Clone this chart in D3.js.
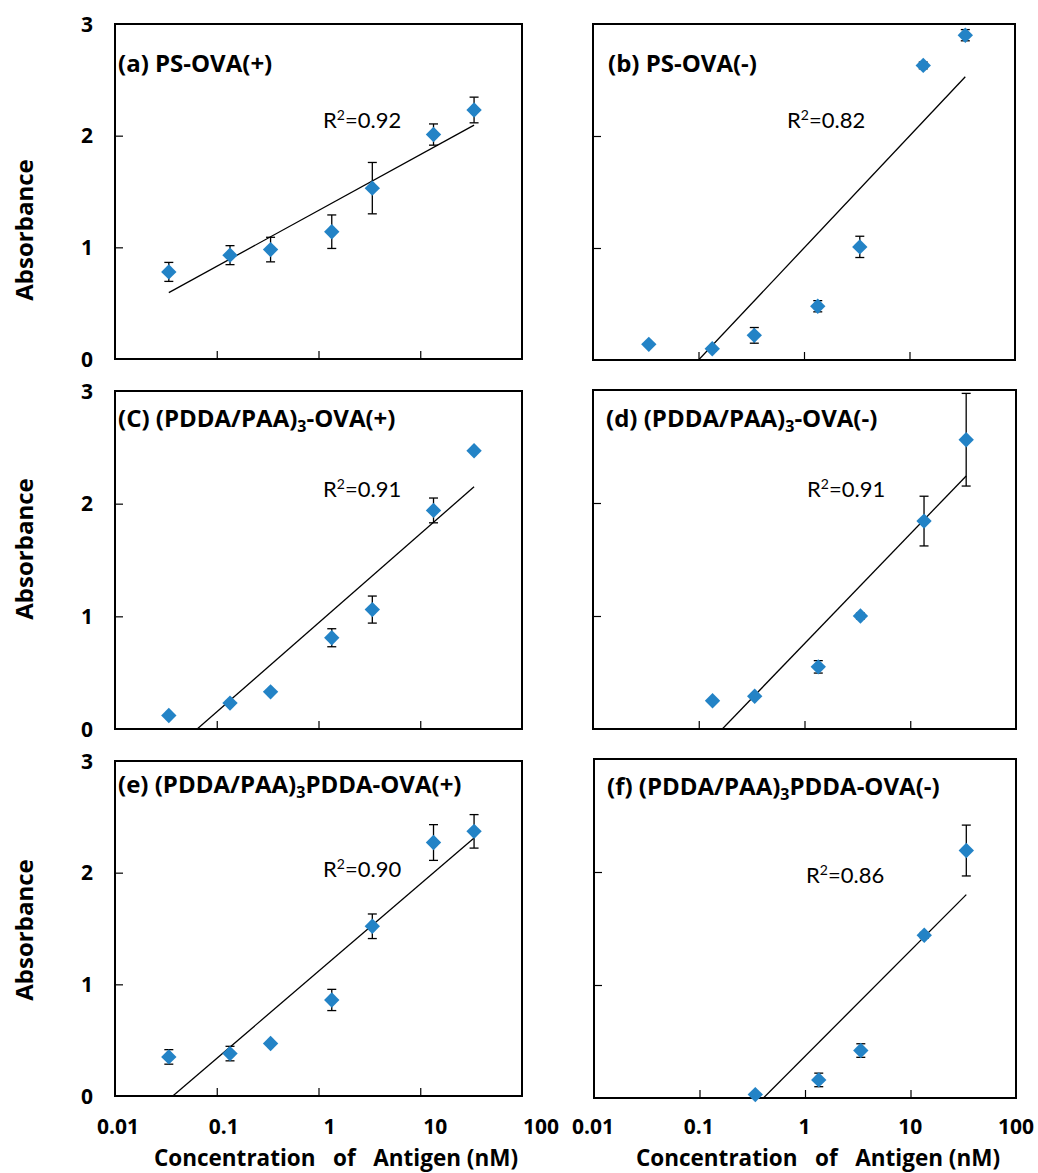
<!DOCTYPE html>
<html>
<head>
<meta charset="utf-8">
<script src="https://cdn.jsdelivr.net/npm/d3@7"></script>
<style>
  html, body { margin: 0; padding: 0; background: #fff; }
  svg { display: block; }
  text { fill: #000; }
  .bold { font-family: "Open Sans", Lato, sans-serif; font-weight: bold; }
  .reg { font-family: Lato, "Open Sans", sans-serif; }
</style>
</head>
<body>
<svg id="chart" width="1038" height="1173"></svg>
<script>
// ---------- data ----------
const conc = [0.0338, 0.135, 0.338, 1.35, 3.38, 13.5, 33.8];
const xTickValues = [0.01, 0.1, 1, 10, 100];
const xTickLabels = ["0.01", "0.1", "1", "10", "100"];
const yTickValues = [0, 1, 2, 3];
const yTickLabels = ["0", "1", "2", "3"];

const panelNames = ["(a) PS-OVA(+)", "(b) PS-OVA(-)", "(C) (PDDA/PAA)|3|-OVA(+)",
                    "(d) (PDDA/PAA)|3|-OVA(-)", "(e) (PDDA/PAA)|3|PDDA-OVA(+)", "(f) (PDDA/PAA)|3|PDDA-OVA(-)"];
const r2Values = ["0.92", "0.82", "0.91", "0.91", "0.90", "0.86"];

const aX = conc;
const aY = [0.78, 0.93, 0.98, 1.14, 1.53, 2.01, 2.23];
const aErr = [0.085, 0.085, 0.11, 0.15, 0.23, 0.095, 0.115];

const bX = conc;
const bY = [0.14, 0.10, 0.22, 0.48, 1.01, 2.63, 2.90];
const bErr = [0.0, 0.02, 0.07, 0.05, 0.095, 0.03, 0.05];

const cX = conc;
const cY = [0.12, 0.23, 0.33, 0.81, 1.06, 1.94, 2.47];
const cErr = [0.015, 0.015, 0.01, 0.08, 0.12, 0.11, 0.015];

const dX = conc.slice(1);
const dY = [0.25, 0.29, 0.55, 1.00, 1.84, 2.56];
const dErr = [0.01, 0.015, 0.055, 0.025, 0.22, 0.41];

const eX = conc;
const eY = [0.35, 0.38, 0.47, 0.86, 1.52, 2.27, 2.37];
const eErr = [0.065, 0.065, 0.015, 0.095, 0.11, 0.16, 0.15];

const fX = conc.slice(2);
const fY = [0.03, 0.16, 0.42, 1.44, 2.19];
const fErr = [0.0, 0.06, 0.06, 0.025, 0.225];

// logarithmic trend lines: y = intercept + slope * log10(x)
const trendSlope = [0.50, 1.00, 0.79, 0.971, 0.78, 0.936];
const trendIntercept = [1.33, 1.00, 0.942, 0.755, 1.117, 0.369];

const seriesX = [aX, bX, cX, dX, eX, fX];
const seriesY = [aY, bY, cY, dY, eY, fY];
const seriesErr = [aErr, bErr, cErr, dErr, eErr, fErr];

// ---------- layout ----------
const layout = [
  { x0: 115, x1: 522, y0: 24,  y1: 359, col: 0, row: 0, lx: 118, ly: 72,  rx: 323, ry: 128 },
  { x0: 593, x1: 1015, y0: 24, y1: 360, col: 1, row: 0, lx: 608, ly: 72,  rx: 787, ry: 128 },
  { x0: 115, x1: 522, y0: 391, y1: 729, col: 0, row: 1, lx: 118, ly: 427, rx: 323, ry: 497 },
  { x0: 593, x1: 1016, y0: 390, y1: 729, col: 1, row: 1, lx: 606, ly: 427, rx: 807, ry: 497 },
  { x0: 115, x1: 522, y0: 761, y1: 1096, col: 0, row: 2, lx: 118, ly: 793, rx: 323, ry: 877 },
  { x0: 594, x1: 1016, y0: 759, y1: 1098, col: 1, row: 2, lx: 607, ly: 795, rx: 806, ry: 883 }
];
const absorbanceCenters = [230, 549, 930];

const svg = d3.select("#chart");
const markerColor = "#2383c6";
const diamond = d3.symbol().type(d3.symbolSquare).size(118);

layout.forEach((L, i) => {
  const x = d3.scaleLog().domain([0.01, 100]).range([L.x0, L.x1]);
  const y = d3.scaleLinear().domain([0, 3]).range([L.y1, L.y0]);
  const g = svg.append("g");

  const clipId = "clip" + i;
  svg.append("defs").append("clipPath").attr("id", clipId)
    .append("rect").attr("x", L.x0).attr("y", L.y0)
    .attr("width", L.x1 - L.x0).attr("height", L.y1 - L.y0);

  // inner ticks
  const xAxis = d3.axisTop(x).tickValues([0.1, 1, 10]).tickSize(8).tickFormat("");
  g.append("g").attr("transform", `translate(0,${L.y1})`).call(xAxis)
    .call(s => s.select(".domain").remove())
    .call(s => s.selectAll("line").attr("stroke", "#000").attr("stroke-width", 1.2));
  const yAxis = d3.axisRight(y).tickValues([1, 2]).tickSize(8).tickFormat("");
  g.append("g").attr("transform", `translate(${L.x0},0)`).call(yAxis)
    .call(s => s.select(".domain").remove())
    .call(s => s.selectAll("line").attr("stroke", "#000").attr("stroke-width", 1.2));

  // frame
  g.append("rect").attr("x", L.x0).attr("y", L.y0)
    .attr("width", L.x1 - L.x0).attr("height", L.y1 - L.y0)
    .attr("fill", "none").attr("stroke", "#000").attr("stroke-width", 2);

  if (L.col === 0) {
    g.selectAll(".ylab").data(yTickValues).enter().append("text")
      .attr("class", "bold")
      .attr("x", 93).attr("y", d => y(d)).attr("dy", "0.36em")
      .attr("text-anchor", "end").attr("font-size", 21)
      .text((d, k) => yTickLabels[k]);
    g.append("text").attr("class", "bold")
      .attr("transform", `translate(33,${absorbanceCenters[L.row]}) rotate(-90)`)
      .attr("text-anchor", "middle").attr("font-size", 24)
      .text("Absorbance");
  }

  if (L.row === 2) {
    const labelScale = L.col === 0
      ? d3.scaleLog().domain([0.01, 100]).range([118, 541])
      : d3.scaleLog().domain([0.01, 100]).range([593, 1016]);
    g.selectAll(".xlab").data(xTickValues).enter().append("text")
      .attr("class", "bold")
      .attr("x", d => labelScale(d)).attr("y", 1134)
      .attr("text-anchor", "middle").attr("font-size", 21)
      .text((d, k) => xTickLabels[k]);
    g.append("text").attr("class", "bold")
      .attr("x", L.col === 0 ? 336 : 818).attr("y", 1166)
      .attr("text-anchor", "middle").attr("font-size", 22.5)
      .style("white-space", "pre")
      .text("Concentration   of   Antigen (nM)");
  }

  // trend line
  const xs = seriesX[i];
  const trendPts = [xs[0], xs[xs.length - 1]].map(v => [v, trendIntercept[i] + trendSlope[i] * Math.log10(v)]);
  g.append("path")
    .attr("clip-path", `url(#${clipId})`)
    .attr("d", d3.line().x(d => x(d[0])).y(d => y(d[1]))(trendPts))
    .attr("fill", "none").attr("stroke", "#000").attr("stroke-width", 1.3);

  const pts = xs.map((v, k) => ({ x: v, y: seriesY[i][k], e: seriesErr[i][k] }));

  // error bars (behind markers)
  const eb = g.selectAll(".eb").data(pts.filter(d => d.e > 0)).enter().append("g")
    .attr("stroke", "#000").attr("stroke-width", 1.3);
  eb.append("line").attr("x1", d => x(d.x)).attr("x2", d => x(d.x))
    .attr("y1", d => y(d.y + d.e)).attr("y2", d => y(d.y - d.e));
  eb.append("line").attr("x1", d => x(d.x) - 4.5).attr("x2", d => x(d.x) + 4.5)
    .attr("y1", d => y(d.y + d.e)).attr("y2", d => y(d.y + d.e));
  eb.append("line").attr("x1", d => x(d.x) - 4.5).attr("x2", d => x(d.x) + 4.5)
    .attr("y1", d => y(d.y - d.e)).attr("y2", d => y(d.y - d.e));

  // markers
  g.selectAll(".pt").data(pts).enter().append("path")
    .attr("d", diamond)
    .attr("transform", d => `translate(${x(d.x)},${y(d.y)}) rotate(45)`)
    .attr("fill", markerColor);

  // panel label (with subscript)
  const parts = panelNames[i].split("|");
  const t = g.append("text").attr("class", "bold").attr("x", L.lx).attr("y", L.ly)
    .attr("font-size", 24);
  parts.forEach((p, k) => {
    if (k === 1) {
      t.append("tspan").attr("font-size", 16).attr("dy", 5).text(p);
    } else if (k === 2) {
      t.append("tspan").attr("dy", -5).text(p);
    } else {
      t.append("tspan").text(p);
    }
  });

  // R^2 label
  const r = g.append("text").attr("class", "reg").attr("x", L.rx).attr("y", L.ry).attr("font-size", 22);
  r.append("tspan").text("R");
  r.append("tspan").attr("font-size", 14).attr("dy", -8).text("2");
  r.append("tspan").attr("dy", 8).text("=" + r2Values[i]);
});
</script>
</body>
</html>
